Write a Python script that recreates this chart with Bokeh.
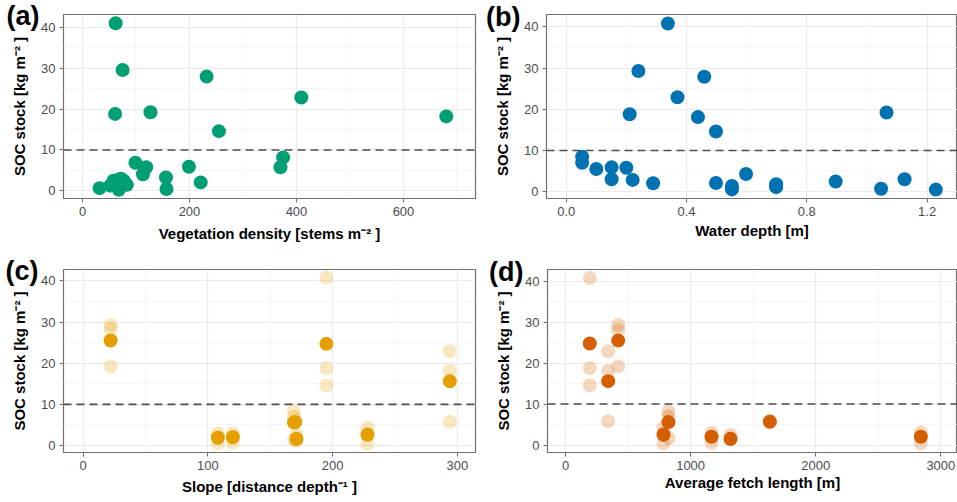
from bokeh.plotting import figure
from bokeh.layouts import column, row
from bokeh.models import (Range1d, FixedTicker, Span, LinearAxis, NumeralTickFormatter,
                          CustomJSTickFormatter)
from bokeh.embed import file_html
from bokeh.resources import INLINE

# ---------------- data ----------------
# (a) vegetation density vs SOC stock
veg_density = [62, 75, 232, 61, 127, 409, 680, 255, 99, 119, 113, 156, 157, 199, 221,
               375, 370, 32, 52, 58, 62, 68, 72, 77, 83, 68, 65]
veg_soc = [40.9, 29.5, 27.9, 18.8, 19.2, 22.8, 18.2, 14.6, 6.9, 5.8, 4.1, 3.3, 0.5, 5.9, 2.1,
           8.2, 5.8, 0.7, 1.3, 2.5, 2.1, 2.8, 3.0, 2.5, 1.5, 0.3, 1.1]

# (b) water depth vs SOC stock
water_depth = [0.338, 0.240, 0.459, 0.370, 0.211, 0.438, 0.498, 1.065, 0.053, 0.053, 0.10,
               0.151, 0.151, 0.20, 0.221, 0.289, 0.498, 0.551, 0.551, 0.598, 0.698, 0.698,
               0.896, 1.047, 1.125, 1.229]
depth_soc = [40.8, 29.3, 27.9, 22.9, 18.8, 18.1, 14.6, 19.2, 8.5, 7.0, 5.5,
             5.9, 3.0, 5.8, 2.85, 2.05, 2.1, 1.4, 0.55, 4.3, 1.8, 1.1,
             2.45, 0.7, 3.0, 0.5]

# (c) slope vs SOC stock: individual cores and site means
slope_pts = [22, 22, 22, 108, 108, 108, 120, 120, 120, 169, 169, 169, 170, 170,
             171, 171, 171, 195, 195, 195, 228, 228, 228, 294, 294, 294]
slope_soc = [29.3, 28.3, 19.2, 3.0, 0.6, 2.05, 3.0, 0.7, 2.1, 8.3, 7.0, 1.4, 5.5, 5.9,
             1.8, 1.1, 2.45, 40.8, 18.8, 14.6, 4.3, 0.4, 2.85, 22.9, 18.1, 5.8]
slope_mean_x = [22, 108, 120, 169, 170, 171, 195, 228, 294]
slope_mean_soc = [25.5, 1.9, 2.0, 5.6, 5.7, 1.6, 24.7, 2.6, 15.6]

# (d) average fetch length vs SOC stock: individual cores and site means
fetch_pts = [194, 194, 194, 341, 341, 341, 421, 421, 421, 783, 783, 783, 823, 823, 823,
             1167, 1167, 1167, 1319, 1319, 1319, 1633, 1633, 2840, 2840, 2840]
fetch_soc = [40.8, 18.8, 14.6, 22.9, 18.1, 5.8, 29.3, 28.0, 19.2, 4.3, 0.4, 2.85, 8.2, 7.0, 1.7,
             3.0, 0.55, 2.05, 2.5, 1.35, 1.6, 5.5, 5.9, 3.1, 0.4, 2.1]
fetch_mean_x = [194, 341, 421, 783, 823, 1167, 1319, 1633, 2840]
fetch_mean_soc = [24.8, 15.6, 25.5, 2.5, 5.6, 2.0, 1.5, 5.7, 2.0]

y_ticks = [0, 10, 20, 30, 40]
y_minor = [5, 15, 25, 35]
threshold = 10
panel_tags = ["(a)", "(b)", "(c)", "(d)"]

FONT = "Liberation Sans"
GRID = "#EBEBEB"
BORDER = "#6E6E6E"
TICKLBL = "#4D4D4D"


def make_fig(width, height, bl, br, bt, bb, xr, yr, xticks, xminor, xlabel, xlab_standoff,
             tag, tag_y, tag_standoff):
    p = figure(width=width, height=height, x_range=Range1d(*xr), y_range=Range1d(*yr),
               output_backend="svg", toolbar_location=None,
               min_border_left=bl, min_border_right=br, min_border_top=bt, min_border_bottom=bb)
    p.background_fill_color = "white"
    p.border_fill_color = "white"
    p.outline_line_color = BORDER
    p.outline_line_width = 1.2

    p.xaxis.ticker = FixedTicker(ticks=xticks, minor_ticks=xminor)
    p.yaxis.ticker = FixedTicker(ticks=y_ticks, minor_ticks=y_minor)
    for ax in (p.xaxis, p.yaxis):
        ax.axis_line_color = None
        ax.major_tick_line_color = BORDER
        ax.major_tick_out = 4
        ax.major_tick_in = 0
        ax.minor_tick_line_color = None
        ax.major_label_text_font = FONT
        ax.major_label_text_font_size = "13px"
        ax.major_label_text_color = TICKLBL
        ax.axis_label_text_font = FONT
        ax.axis_label_text_font_size = "15px"
        ax.axis_label_text_font_style = "bold"
        ax.axis_label_text_color = "black"
        ax.major_label_standoff = 4
    p.xaxis.axis_label = xlabel
    p.xaxis.axis_label_standoff = xlab_standoff
    p.yaxis.axis_label = "SOC stock [kg m\u207b\u00b2 ]"
    p.yaxis.axis_label_standoff = 10

    p.xgrid.grid_line_color = GRID
    p.ygrid.grid_line_color = GRID
    p.xgrid.grid_line_width = 1.2
    p.ygrid.grid_line_width = 1.2
    p.xgrid.minor_grid_line_color = "#F2F2F2"
    p.ygrid.minor_grid_line_color = "#F2F2F2"
    p.xgrid.minor_grid_line_width = 0.8
    p.ygrid.minor_grid_line_width = 0.8

    p.add_layout(Span(location=threshold, dimension="width", line_color="#4D4D4D",
                      line_dash="8 5", line_width=1.6))

    # panel tag, drawn as a single-tick outer axis so it can sit outside the frame
    tag_axis = LinearAxis(ticker=FixedTicker(ticks=[tag_y]),
                          formatter=CustomJSTickFormatter(code="return '%s'" % tag))
    tag_axis.axis_line_color = None
    tag_axis.major_tick_line_color = None
    tag_axis.minor_tick_line_color = None
    tag_axis.major_tick_out = 0
    tag_axis.major_tick_in = 0
    tag_axis.major_label_standoff = tag_standoff
    tag_axis.major_label_text_font = FONT
    tag_axis.major_label_text_font_size = "27px"
    tag_axis.major_label_text_font_style = "bold"
    tag_axis.major_label_text_color = "black"
    p.add_layout(tag_axis, "left")
    return p


# panel (a)
pa = make_fig(478, 250, 63, 3, 14, 52, (-35.5, 734.6), (-1.83, 43.05),
              [0, 200, 400, 600], [100, 300, 500, 700],
              "Vegetation density [stems m\u207b\u00b2 ]", 6, panel_tags[0], 42.7, -31)
pa.scatter(veg_density, veg_soc, size=14, color="#009E73", line_color=None)

# panel (b)
pb = make_fig(479, 250, 68, 0, 14, 48, (-0.0655, 1.301), (-1.66, 43.0),
              [0, 0.4, 0.8, 1.2], [0.2, 0.6, 1.0],
              "Water depth [m]", 3, panel_tags[1], 42.4, -29)
pb.xaxis.formatter = NumeralTickFormatter(format="0.0")
pb.scatter(water_depth, depth_soc, size=14, color="#0072B2", line_color=None)

# panel (c)
pc = make_fig(478, 252, 63, 3, 19, 50, (-15.8, 314.6), (-1.70, 42.77),
              [0, 100, 200, 300], [50, 150, 250],
              "Slope [distance depth\u207b\u00b9 ]", 5, panel_tags[2], 42.5, -30)
pc.scatter(slope_pts, slope_soc, size=14, color="#E69F00", alpha=0.25, line_color=None)
pc.scatter(slope_mean_x, slope_mean_soc, size=14, color="#E69F00", line_color=None)

# panel (d)
pd_ = make_fig(479, 252, 69, 0, 19, 45, (-144, 3133), (-1.83, 42.86),
               [0, 1000, 2000, 3000], [500, 1500, 2500],
               "Average fetch length [m]", 1, panel_tags[3], 42.3, -31)
pd_.scatter(fetch_pts, fetch_soc, size=14, color="#D55E00", alpha=0.25, line_color=None)
pd_.scatter(fetch_mean_x, fetch_mean_soc, size=14, color="#D55E00", line_color=None)

layout = column(row(pa, pb), row(pc, pd_))

open("out.html", "w").write(file_html(layout, INLINE))
